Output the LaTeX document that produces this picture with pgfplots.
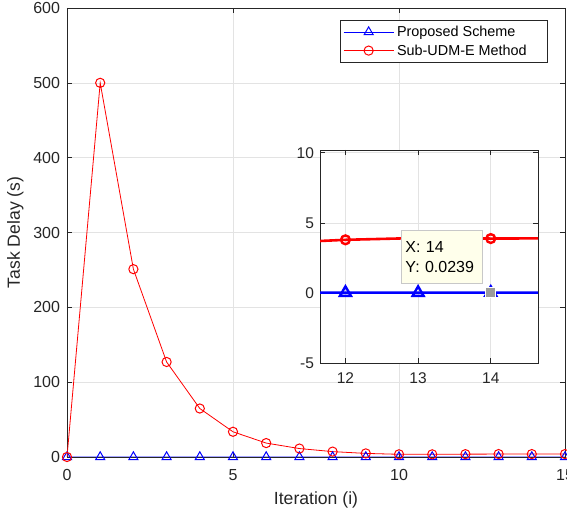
\documentclass[border=0pt]{standalone}
\usepackage{fontspec}
\setmainfont{Liberation Sans}
\usepackage{pgfplots}
\pgfplotsset{compat=1.18}
\definecolor{axgray}{HTML}{262626}
\definecolor{gridgray}{HTML}{E3E3E3}
\definecolor{tipfill}{HTML}{FFFFEB}
\definecolor{tipedge}{HTML}{C8C8C8}
\definecolor{tipmark}{HTML}{9A9A9A}

\pgfplotsset{
  matlab/.style={
    scale only axis,
    axis line style={draw=axgray,line width=0.6pt},
    tick style={draw=axgray,line width=0.6pt},
    major tick length=5pt,
    tick align=inside,
    grid=major,
    grid style={draw=gridgray,line width=0.6pt},
    ticklabel style={text=axgray},
    /pgf/number format/assume math mode=true,
  }
}

\begin{document}
\begin{tikzpicture}
\begin{axis}[
  matlab,
  at={(0pt,0pt)},anchor=south west,
  width=498pt,height=449pt,
  xmin=0,xmax=15,ymin=0,ymax=600,
  xtick={0,5,10,15},
  ytick={0,100,...,600},
  ticklabel style={font=\fontsize{16}{19}\selectfont},
  xticklabel style={yshift=-8.5pt},
  yticklabel style={xshift=-3.5pt},
  label style={font=\fontsize{17.6}{21}\selectfont,text=axgray},
  xlabel={Iteration (i)},
  ylabel={Task Delay (s)},
  xlabel style={at={(axis description cs:0.5,-0.096)},anchor=center},
  ylabel style={at={(axis description cs:-0.104,0.5)},anchor=center},
  legend cell align=left,
  legend style={at={(1,1)},anchor=north east,xshift=-17pt,yshift=-12.5pt,
    draw=axgray,fill=white,line width=0.6pt,
    font=\fontsize{14.4}{17}\selectfont,
    inner xsep=3pt,inner ysep=2pt,
    nodes={inner xsep=3pt,inner ysep=3.3pt}},
  legend image code/.code={
    \draw[mark repeat=2,mark phase=2] plot coordinates {(0pt,0pt)(25pt,0pt)(50pt,0pt)};}
]
\addplot[blue,line width=0.8pt,mark=triangle,mark size=5.2pt,mark options={line width=1pt,solid}]
  coordinates {(0,0.02)(1,0.02)(2,0.02)(3,0.02)(4,0.02)(5,0.02)(6,0.02)(7,0.02)
               (8,0.02)(9,0.02)(10,0.02)(11,0.02)(12,0.02)(13,0.02)(14,0.0239)(15,0.02)};
\addplot[red,line width=0.8pt,mark=o,mark size=4.6pt,mark options={line width=1pt,solid}]
  coordinates {(0,0)(1,500)(2,251)(3,127)(4,64.8)(5,33.7)(6,18.6)(7,11.3)
               (8,7.2)(9,4.8)(10,3.6)(11,3.55)(12,3.79)(13,3.92)(14,3.88)(15,3.9)};
\legend{Proposed Scheme,Sub-UDM-E Method\hspace*{15pt}}
\end{axis}

\begin{axis}[
  matlab,
  at={(253pt,94pt)},anchor=south west,
  width=218pt,height=213pt,
  xmin=11.65,xmax=14.65,ymin=-5,ymax=10.2,
  xtick={12,13,14},
  ytick={-5,0,5,10},
  axis background/.style={fill=white},
  ticklabel style={font=\fontsize{15.5}{18}\selectfont},
  xticklabel style={yshift=-6pt},
  yticklabel style={xshift=-2.5pt},
  after end axis/.code={
    \node[draw=tipedge,fill=tipfill,line width=0.6pt,anchor=south west,
          minimum width=81pt,minimum height=53pt,text width=72pt,
          inner xsep=4.5pt,inner ysep=4pt,align=left,
          font=\fontsize{16}{20.3}\selectfont,text=black]
      at (axis cs:12.76,0.64) {X: 14\\Y: 0.0239};
  },
]
\addplot[blue,line width=2.6pt,mark=triangle,mark size=6.3pt,mark options={line width=2.4pt,solid}]
  coordinates {(10,0.02)(11,0.02)(12,0.02)(13,0.02)(14,0.0239)(15,0.02)};
\addplot[red,line width=2.6pt,mark=o,mark size=4.4pt,mark options={line width=2.4pt,solid}]
  coordinates {(10,3.6)(11,3.55)(12,3.79)(13,3.92)(14,3.88)(15,3.9)};
\addplot[only marks,mark=square*,mark size=5pt,mark options={fill=tipmark,draw=white,line width=0.8pt}]
  coordinates {(14,0.0239)};
\end{axis}

\pgfresetboundingbox
\useasboundingbox (-67pt,-56pt) rectangle (500pt,457pt);
\end{tikzpicture}
\end{document}
